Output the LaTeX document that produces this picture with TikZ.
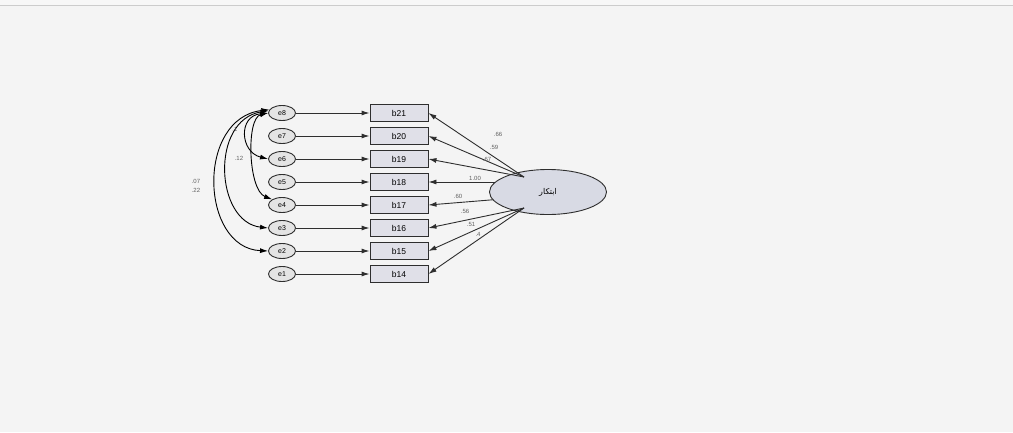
\documentclass[tikz,border=0pt]{standalone}
\usepackage{fontspec}
\setmainfont{Liberation Sans}
\newfontfamily\arabicfont[Script=Arabic]{DejaVu Sans}
\TeXXeTstate=1
\usetikzlibrary{arrows.meta,shapes.geometric}
\definecolor{bgc}{HTML}{F4F4F4}
\definecolor{boxfill}{HTML}{E0E0E8}
\definecolor{efill}{HTML}{E4E4E4}
\definecolor{latfill}{HTML}{D8DAE4}
\definecolor{edgec}{HTML}{2E2E2E}
\begin{document}
\begin{tikzpicture}[x=1pt,y=-1pt,
  errnode/.style={ellipse,draw=edgec,fill=efill,line width=0.9pt,minimum width=27pt,minimum height=15pt,inner sep=0pt,font=\fontsize{7}{8}\selectfont},
  obsbox/.style={rectangle,draw=edgec,fill=boxfill,line width=0.9pt,minimum width=58pt,minimum height=17pt,inner sep=0pt,font=\fontsize{8.5}{9}\selectfont},
  latnode/.style={ellipse,draw=edgec,fill=latfill,line width=0.9pt,minimum width=117pt,minimum height=45pt,inner sep=0pt},
  arr/.style={-{Latex[length=8pt,width=5pt]},draw=edgec,line width=0.9pt},
  cov/.style={{Latex[length=8pt,width=5pt]}-{Latex[length=8pt,width=5pt]},draw=black,line width=0.9pt},
  lab/.style={font=\fontsize{6}{7}\selectfont,text=gray!75!black,inner sep=0.5pt}]
\useasboundingbox (0,0) rectangle (1013,432);
\fill[bgc] (0,0) rectangle (1013,432);
\fill[white!97!black] (0,0) rectangle (1013,5);
\draw[gray!40,line width=0.8pt] (0,5.5) -- (1013,5.5);

% observed boxes and errors
\foreach \k/\e/\b in {0/8/21,1/7/20,2/6/19,3/5/18,4/4/17,5/3/16,6/2/15,7/1/14}{
  \node[errnode] (e\e) at (282,113+23*\k) {e\e};
  \node[obsbox] (b\b) at (399,113+23*\k) {b\b};
  \draw[arr] (e\e) -- (b\b);
}

% latent
\node[latnode] (lat) at (548,192) {\fontsize{8}{9}\selectfont\arabicfont\beginR ابتكار\endR};
\coordinate (ct) at (524,177);
\coordinate (cb) at (524,208);

\draw[arr] (ct) -- (b21.east);
\draw[arr] (ct) -- (b20.east);
\draw[arr] (ct) -- (b19.east);
\draw[arr] (lat.west |- b18) ++(6,0) -- (b18.east);
\draw[arr] (lat.188) -- (b17.east);
\draw[arr] (cb) -- (b16.east);
\draw[arr] (cb) -- (b15.east);
\draw[arr] (cb) -- (b14.east);

\node[lab] (l21) at (498,134) {.66};
\node[lab] (l20) at (494,147) {.59};
\node[lab] (l19) at (487,159) {.67};
\node[lab] (l18) at (475,178) {1.00};
\node[lab] (l17) at (458,196) {.60};
\node[lab] (l16) at (465,211) {.56};
\node[lab] (l15) at (471,224) {.51};
\node[lab] (l14) at (478,234) {.4};

% covariances
\draw[cov] (e8.west) .. controls (238,116) and (240,152) .. (e6.west);
\draw[cov] (e8.180) .. controls (246,118) and (248,190) .. (e4.north west);
\draw[cov] (e8.170) .. controls (210,120) and (215,222) .. (e3.west);
\draw[cov] (e8.165) .. controls (196,118) and (200,248) .. (e2.west);

\node[lab] (c1) at (235,129) {.1};
\node[lab] (c2) at (239,158) {.12};
\node[lab] (c3) at (196,181) {.07};
\node[lab] (c4) at (196,190) {.22};
\end{tikzpicture}
\end{document}
